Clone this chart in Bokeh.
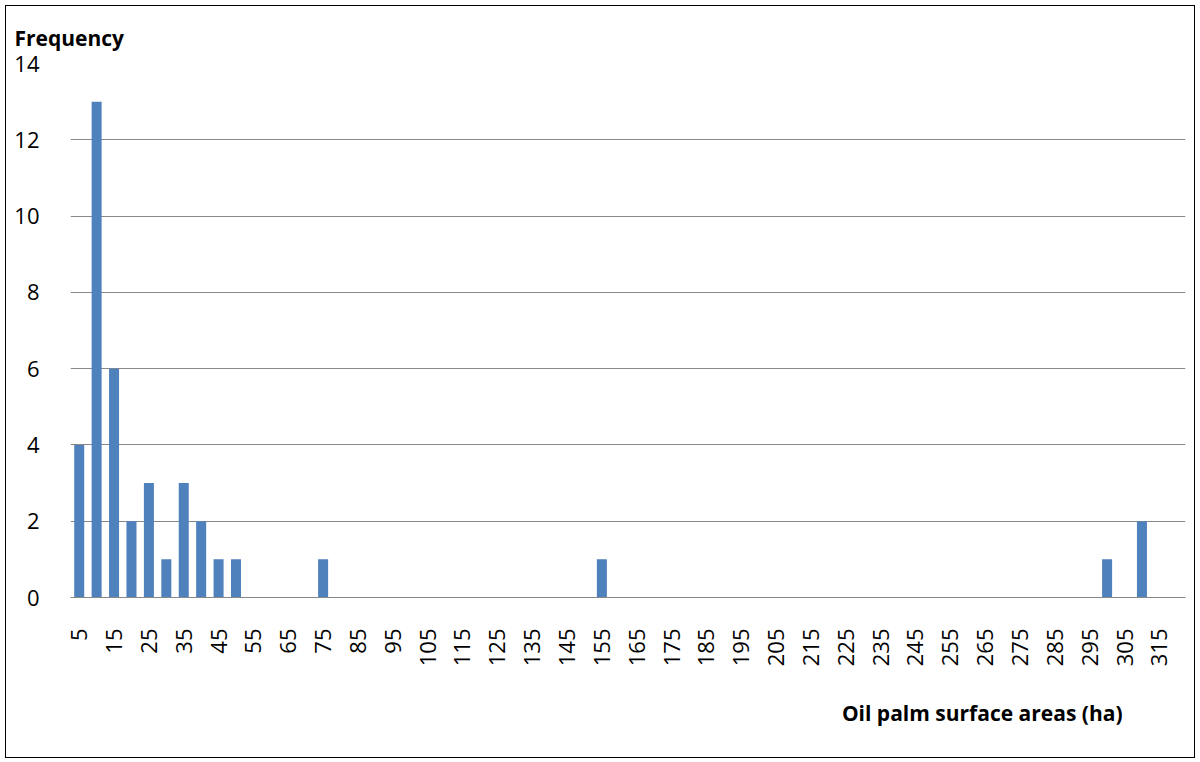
from bokeh.plotting import figure
from bokeh.models import Range1d, FixedTicker, Title
from bokeh.embed import file_html
from bokeh.resources import INLINE

# Data
areas = [5, 10, 15, 20, 25, 30, 35, 40, 45, 50, 55, 60, 65, 70, 75, 80,
         85, 90, 95, 100, 105, 110, 115, 120, 125, 130, 135, 140, 145, 150, 155, 160,
         165, 170, 175, 180, 185, 190, 195, 200, 205, 210, 215, 220, 225, 230, 235, 240,
         245, 250, 255, 260, 265, 270, 275, 280, 285, 290, 295, 300, 305, 310, 315, 320]
frequency = [4, 13, 6, 2, 3, 1, 3, 2, 1, 1, 0, 0, 0, 0, 1, 0,
             0, 0, 0, 0, 0, 0, 0, 0, 0, 0, 0, 0, 0, 0, 1, 0,
             0, 0, 0, 0, 0, 0, 0, 0, 0, 0, 0, 0, 0, 0, 0, 0,
             0, 0, 0, 0, 0, 0, 0, 0, 0, 0, 0, 1, 0, 2, 0, 0]
x_tick_labels = [5, 15, 25, 35, 45, 55, 65, 75, 85, 95, 105, 115, 125, 135, 145, 155,
                 165, 175, 185, 195, 205, 215, 225, 235, 245, 255, 265, 275, 285, 295, 305, 315]
y_ticks = [0, 2, 4, 6, 8, 10, 12, 14]

FONT = "Open Sans"
GRID = "#888888"

W, H = 1190, 753
p = figure(width=W, height=H, output_backend="svg", toolbar_location=None,
           x_range=Range1d(2.5, 322.5), y_range=Range1d(0, 14),
           min_border_left=64, min_border_right=11, min_border_top=57, min_border_bottom=162,
           margin=(5, 0, 0, 5))
p.styles = {"border": "1px solid #000000"}
p.outline_line_color = None
p.background_fill_color = "white"
p.border_fill_color = "white"

p.vbar(x=areas, top=frequency, width=2.875, bottom=0, color="#4F81BD", line_color=None)

# Axes
p.xaxis.ticker = FixedTicker(ticks=x_tick_labels)
p.xaxis.major_label_orientation = 3.14159265 / 2
p.xaxis.major_label_standoff = 25
p.xaxis.major_tick_line_color = None
p.xaxis.minor_tick_line_color = None
p.xaxis.axis_line_color = GRID
p.xaxis.axis_line_width = 1
p.xaxis.major_label_text_font = FONT
p.xaxis.major_label_text_font_size = "22px"
p.xaxis.major_label_text_color = "#000000"

p.yaxis.ticker = FixedTicker(ticks=y_ticks)
p.yaxis.major_label_standoff = 25
p.yaxis.major_tick_line_color = None
p.yaxis.minor_tick_line_color = None
p.yaxis.axis_line_color = None
p.yaxis.major_label_text_font = FONT
p.yaxis.major_label_text_font_size = "22px"
p.yaxis.major_label_text_color = "#000000"

p.xgrid.grid_line_color = None
p.ygrid.grid_line_color = GRID
p.ygrid.grid_line_width = 1

p.add_layout(Title(text="Frequency", align="left", offset=-56, standoff=20,
                   vertical_align="top",
                   text_font=FONT, text_font_size="21px", text_font_style="bold",
                   text_color="#000000"), "above")
p.add_layout(Title(text="Oil palm surface areas (ha)", align="right", offset=63,
                   standoff=58, vertical_align="top",
                   text_font=FONT, text_font_size="21px", text_font_style="bold",
                   text_color="#000000"), "below")

open("out.html", "w").write(file_html(p, INLINE))
